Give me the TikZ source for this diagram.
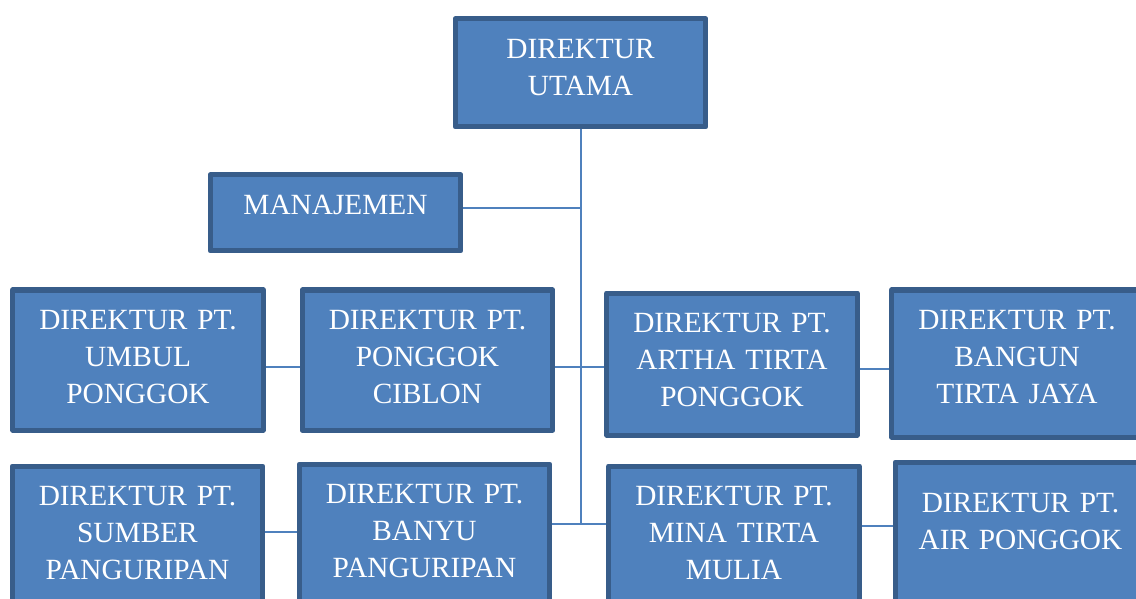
\documentclass[tikz,border=0pt]{standalone}
\usepackage{fontspec}
\setmainfont{Liberation Serif}
\usetikzlibrary{positioning,calc}

\definecolor{unitfill}{HTML}{4F81BD}
\definecolor{unitline}{HTML}{385D8A}

\begin{document}
\begin{tikzpicture}[
    x=0.75pt, y=-0.75pt,
    unit/.style={rectangle, draw=unitline, line width=3.75pt, line join=round,
        fill=unitfill, text=white, anchor=north,
        font=\fontsize{22}{27.75}\selectfont,
        text width=188pt, align=center, inner xsep=0pt, inner ysep=0pt,
        text height=29.4pt},
    link/.style={draw=unitfill, line width=1.5pt}
]
\useasboundingbox (0,0) rectangle (1136,599);
\clip (0,0) rectangle (1136,599);

% Top level
\node[unit, text depth=51.6pt] (utama) at (580.5,16.5) {DIREKTUR\\UTAMA};
\node[unit, text depth=27.6pt] (mgmt) at (335.5,172.5) {MANAJEMEN};

% First row of companies
\node[unit, text depth=75.6pt] (umbul) at (138,287.5) {DIREKTUR PT.\\UMBUL\\PONGGOK};
\node[unit, text depth=75.6pt] (ciblon) at (427.5,287.5) {DIREKTUR PT.\\PONGGOK\\CIBLON};
\node[unit, text depth=77.1pt] (artha) at (732,290.5) {DIREKTUR PT.\\ARTHA TIRTA\\PONGGOK};
\node[unit, text depth=80.9pt] (bangun) at (1017,287.5) {DIREKTUR PT.\\BANGUN\\TIRTA JAYA};

% Second row of companies
\node[unit, text depth=83.1pt] (sumber) at (137.5,463.5) {DIREKTUR PT.\\SUMBER\\PANGURIPAN};
\node[unit, text depth=83.1pt] (banyu) at (424.5,461.5) {DIREKTUR PT.\\BANYU\\PANGURIPAN};
\node[unit, text depth=83.1pt] (mina) at (734,463.5) {DIREKTUR PT.\\MINA TIRTA\\MULIA};
\node[unit, text depth=74.9pt, text height=37.6pt] (air) at (1020.5,459.5) {DIREKTUR PT.\\AIR PONGGOK};

% Connectors
\draw[link] ([yshift=10.9pt]banyu.east) coordinate (b1) -- (b1 -| mina.west);
\draw[link] (utama.south) -- (utama.south |- b1);
\draw[link] ([yshift=4pt]mgmt.east) coordinate (m1) -- (m1 -| utama.south);
\draw[link] ([yshift=-4.9pt]umbul.east) -- ([yshift=-4.9pt]ciblon.west);
\draw[link] ([yshift=-4.9pt]ciblon.east) coordinate (c1) -- (c1 -| artha.west);
\draw[link] ([yshift=-4.1pt]artha.east) coordinate (a1) -- (a1 -| bangun.west);
\draw[link] ([yshift=7.1pt]sumber.east) coordinate (s1) -- (s1 -| banyu.west);
\draw[link] ([yshift=10.9pt]mina.east) coordinate (n1) -- (n1 -| air.west);

\end{tikzpicture}
\end{document}
